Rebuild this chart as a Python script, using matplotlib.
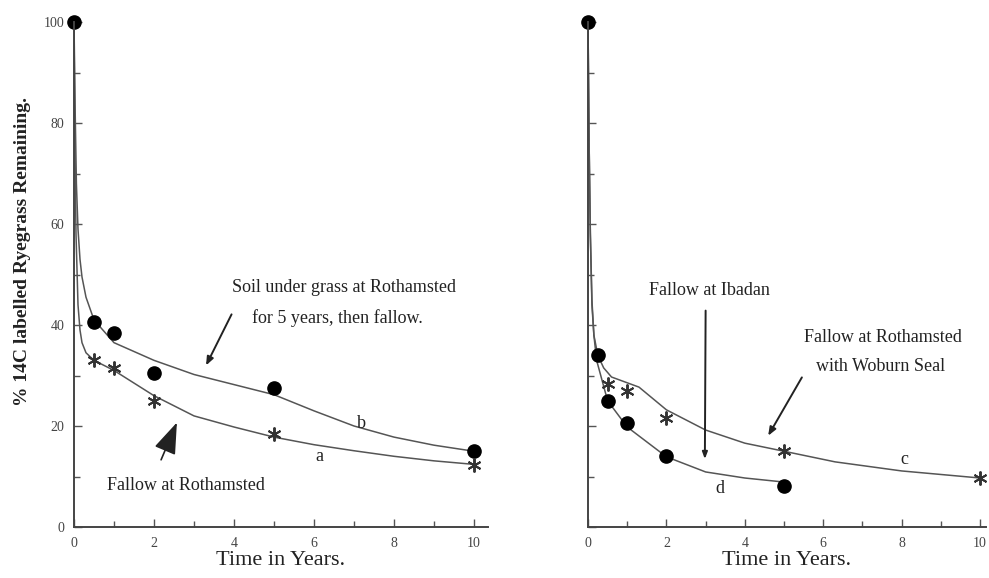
import matplotlib.pyplot as plt
from matplotlib.ticker import MultipleLocator

plt.rcParams["font.family"] = ["Liberation Serif", "DejaVu Serif"]

# ---- left panel: Rothamsted ----
# measured points
b_t = [0, 0.5, 1, 2, 5, 10]
b_pts = [100, 40.5, 38.5, 30.5, 27.5, 15]
a_t = [0.5, 1, 2, 5, 10]
a_pts = [33, 31.5, 25, 18.5, 12.3]

# fitted curves
b_curve_t = [0, 0.03, 0.06, 0.1, 0.15, 0.2, 0.3, 0.5, 1, 2, 3, 4, 5, 6, 7, 8, 9, 10]
b_curve = [100, 82, 68, 59, 53, 49.5, 45.5, 41, 36.5, 33, 30.2, 28.2, 26.2, 23, 20, 17.8, 16.2, 15]
a_curve_t = [0, 0.02, 0.05, 0.1, 0.15, 0.2, 0.3, 0.5, 1, 2, 3, 4, 5, 6, 7, 8, 9, 10]
a_curve = [100, 78, 58, 44, 39, 36.5, 34.5, 33, 31, 26, 22, 19.8, 17.8, 16.3, 15.1, 14, 13.1, 12.4]

# ---- right panel: Ibadan / Woburn ----
d_t = [0, 0.25, 0.5, 1, 2, 5]
d_pts = [100, 34, 25, 20.5, 14, 8.2]
c_t = [0.5, 1, 2, 5, 10]
c_pts = [28.3, 26.9, 21.6, 15, 9.7]

c_curve_t = [0, 0.03, 0.06, 0.1, 0.15, 0.25, 0.4, 0.6, 1.3, 2, 3, 4, 5, 6.3, 8, 10]
c_curve = [100, 75, 58, 44, 38, 34, 31.5, 29.7, 27.7, 23.2, 19.2, 16.6, 15, 12.9, 11.1, 9.7]
d_curve_t = [0, 0.03, 0.06, 0.1, 0.15, 0.22, 0.5, 1, 2, 3, 4, 5]
d_curve = [100, 75, 58, 45, 38, 33, 25, 19.8, 13.9, 10.9, 9.7, 8.9]

ink = "#222222"
line_col = "#555555"
note_fs = 13

fig = plt.figure(figsize=(9.89, 5.78), dpi=100)
ax1 = fig.add_axes([74 / 989, 1 - 527 / 578, 414 / 989, 505 / 578])
ax2 = fig.add_axes([588 / 989, 1 - 527 / 578, 398 / 989, 505 / 578])


def style(ax, xmax, ylabels=True):
    ax.set_xlim(0, xmax)
    ax.set_ylim(0, 100)
    for s in ["top", "right"]:
        ax.spines[s].set_visible(False)
    for s in ["left", "bottom"]:
        ax.spines[s].set_color("#444444")
        ax.spines[s].set_linewidth(1.4)
    ax.xaxis.set_major_locator(MultipleLocator(2))
    ax.xaxis.set_minor_locator(MultipleLocator(1))
    ax.yaxis.set_major_locator(MultipleLocator(20))
    ax.yaxis.set_minor_locator(MultipleLocator(10))
    ax.tick_params(which="both", direction="in", color="#555555", width=1,
                   labelsize=10, labelcolor="#444444", pad=7)
    ax.tick_params(which="major", length=6)
    ax.tick_params(which="minor", length=4)
    if not ylabels:
        ax.set_yticklabels([])
    ax.set_xlabel("Time in Years.", fontsize=16, color=ink, labelpad=1)


style(ax1, 10.35)
style(ax2, 10.15, ylabels=False)

# left panel
ax1.plot(b_curve_t, b_curve, color=line_col, lw=1.1)
ax1.plot(a_curve_t, a_curve, color=line_col, lw=1.1)
ax1.plot(b_t, b_pts, "o", color="black", ms=9.5, clip_on=False)
ax1.plot(a_t, a_pts, marker=(6, 2, 0), ls="none", color="#333333", ms=10, mew=1.4,
         clip_on=False)

ax1.set_ylabel("% 14C labelled Ryegrass Remaining.", fontsize=14, color=ink,
               fontweight="bold")
ax1.yaxis.set_label_coords(-0.105, 0.545)

ax1.text(6.76, 47.5, "Soil under grass at Rothamsted", ha="center", va="center",
         fontsize=note_fs, color=ink)
ax1.text(6.58, 41.4, "for 5 years, then fallow.", ha="center", va="center",
         fontsize=note_fs, color=ink)
ax1.annotate("", xy=(3.27, 31.5), xytext=(3.97, 42.6),
             arrowprops=dict(arrowstyle="-|>,head_length=0.5,head_width=0.2",
                             color=ink, lw=1.4))
ax1.text(7.18, 20.4, "b", ha="center", va="center", fontsize=13, color=ink)
ax1.text(6.13, 13.9, "a", ha="center", va="center", fontsize=13, color=ink)
ax1.text(2.79, 8.3, "Fallow at Rothamsted", ha="center", va="center",
         fontsize=note_fs, color=ink)
ax1.annotate("", xy=(2.6, 21.2), xytext=(2.15, 12.8),
             arrowprops=dict(arrowstyle="-|>,head_length=1.4,head_width=0.5",
                             color=ink, lw=1.2, mutation_scale=14))

# right panel
ax2.plot(c_curve_t, c_curve, color=line_col, lw=1.1)
ax2.plot(d_curve_t, d_curve, color=line_col, lw=1.1)
ax2.plot(d_t, d_pts, "o", color="black", ms=9.5, clip_on=False)
ax2.plot(c_t, c_pts, marker=(6, 2, 0), ls="none", color="#333333", ms=10, mew=1.4,
         clip_on=False)

ax2.text(3.1, 46.9, "Fallow at Ibadan", ha="center", va="center",
         fontsize=note_fs, color=ink)
ax2.annotate("", xy=(2.98, 12.9), xytext=(3.0, 43.4),
             arrowprops=dict(arrowstyle="-|>,head_length=0.4,head_width=0.15",
                             color=ink, lw=1.4))
ax2.text(7.52, 37.6, "Fallow at Rothamsted", ha="center", va="center",
         fontsize=note_fs, color=ink)
ax2.text(7.47, 31.7, "with Woburn Seal", ha="center", va="center",
         fontsize=note_fs, color=ink)
ax2.annotate("", xy=(4.56, 17.6), xytext=(5.49, 30.1),
             arrowprops=dict(arrowstyle="-|>,head_length=0.5,head_width=0.2",
                             color=ink, lw=1.4))
ax2.text(8.07, 13.3, "c", ha="center", va="center", fontsize=13, color=ink)
ax2.text(3.36, 7.7, "d", ha="center", va="center", fontsize=13, color=ink)

fig.savefig("out.png", dpi=100)
